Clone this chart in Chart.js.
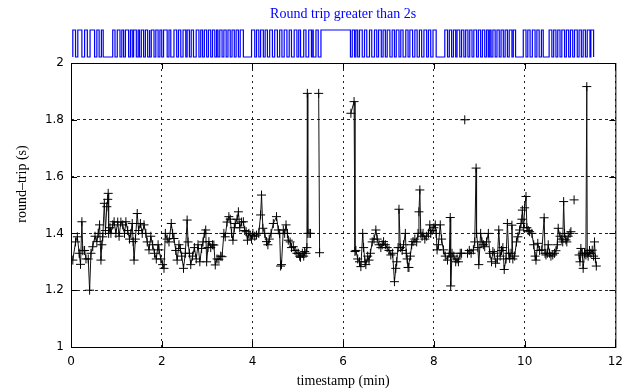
<!DOCTYPE html>
<html>
<head>
<meta charset="utf-8">
<script src="https://cdn.jsdelivr.net/npm/chart.js@4"></script>
<style>
  html, body { margin: 0; padding: 0; background: #fff; }
  #wrap { width: 631px; height: 392px; }
</style>
</head>
<body>
<div id="wrap"><canvas id="rtt"></canvas></div>
<script>
// timestamp (min) of each probe, and its round trip (s); null = lost (> 2s)
const times = [
  0.04, 0.10, 0.14, 0.18, 0.21, 0.24, 0.26, 0.30, 0.33, 0.38, 0.41, 0.44, 0.48, 0.53, 0.57, 0.60, 0.63, 0.66, 0.68, 0.70,
  0.735, 0.76, 0.79, 0.81, 0.82, 0.83, 0.86, 0.88, 0.92, 0.95, 0.99, 1.03, 1.06, 1.10, 1.14, 1.18, 1.21, 1.25, 1.29, 1.32,
  1.35, 1.37, 1.39, 1.42, 1.46, 1.49, 1.53, 1.57, 1.61, 1.65, 1.68, 1.72, 1.76, 1.80, 1.84, 1.88, 1.92, 1.94, 1.98, 2.02,
  2.05, 2.08, 2.12, 2.16, 2.21, 2.24, 2.27, 2.31, 2.34, 2.38, 2.41, 2.44, 2.48, 2.52, 2.56, 2.58, 2.61, 2.64, 2.68, 2.72,
  2.76, 2.80, 2.84, 2.88, 2.91, 2.94, 2.97, 2.99, 3.02, 3.04, 3.08, 3.12, 3.15, 3.18, 3.22, 3.26, 3.30, 3.33, 3.37, 3.40,
  3.44, 3.48, 3.51, 3.54, 3.57, 3.60, 3.62, 3.66, 3.69, 3.72, 3.76, 3.80, 3.83, 3.86, 3.89, 3.92, 3.95, 3.98, 4.01, 4.05,
  4.09, 4.14, 4.18, 4.20, 4.23, 4.27, 4.31, 4.34, 4.37, 4.41, 4.46, 4.53, 4.57, 4.60, 4.62, 4.64, 4.68, 4.71, 4.74, 4.77,
  4.79, 4.83, 4.86, 4.90, 4.94, 4.98, 5.01, 5.04, 5.06, 5.10, 5.13, 5.15, 5.18, 5.20, 5.21, 5.22, 5.25, 5.28, 5.35, 5.46,
  5.48, 5.80, 6.17, 6.24, 6.26, 6.28, 6.32, 6.36, 6.39, 6.43, 6.45, 6.48, 6.50, 6.54, 6.57, 6.60, 6.64, 6.68, 6.72, 6.75,
  6.79, 6.83, 6.86, 6.89, 6.93, 6.97, 7.01, 7.05, 7.09, 7.13, 7.16, 7.18, 7.21, 7.23, 7.26, 7.30, 7.33, 7.37, 7.39, 7.41,
  7.43, 7.45, 7.48, 7.51, 7.54, 7.58, 7.62, 7.65, 7.67, 7.69, 7.71, 7.74, 7.76, 7.80, 7.84, 7.88, 7.91, 7.93, 7.96, 8.00,
  8.03, 8.05, 8.07, 8.10, 8.14, 8.17, 8.21, 8.25, 8.30, 8.34, 8.36, 8.37, 8.40, 8.44, 8.48, 8.51, 8.54, 8.58, 8.61, 8.645,
  8.68, 8.71, 8.74, 8.78, 8.82, 8.87, 8.90, 8.93, 8.94, 8.97, 8.99, 9.03, 9.06, 9.09, 9.12, 9.16, 9.20, 9.23, 9.27, 9.30,
  9.33, 9.36, 9.40, 9.43, 9.46, 9.49, 9.52, 9.55, 9.59, 9.62, 9.65, 9.67, 9.70, 9.72, 9.74, 9.78, 9.82, 9.85, 9.89, 9.92,
  9.94, 9.95, 9.98, 10.00, 10.03, 10.05, 10.08, 10.11, 10.16, 10.20, 10.23, 10.25, 10.29, 10.33, 10.38, 10.43, 10.45, 10.47, 10.50, 10.52,
  10.55, 10.58, 10.62, 10.66, 10.69, 10.72, 10.74, 10.78, 10.81, 10.84, 10.86, 10.88, 10.91, 10.93, 10.96, 11.00, 11.02, 11.05, 11.09, 11.14,
  11.20, 11.22, 11.24, 11.27, 11.29, 11.32, 11.35, 11.37, 11.38, 11.40, 11.43, 11.46, 11.49, 11.52, 11.54, 11.56, 11.58
];
const roundTrip = [
  1.306, 1.37, 1.388, 1.33, 1.291, 1.441, 1.339, 1.34, 1.31, 1.31, 1.20, 1.33, 1.353, 1.39, 1.371, 1.40, 1.43, 1.306, 1.36, 1.388,
  1.506, 1.41, 1.494, 1.52, 1.541, 1.40, 1.42, 1.40, 1.43, 1.441, 1.40, 1.44, 1.39, 1.44, 1.43, 1.40, 1.441, 1.41, 1.38, 1.40,
  1.435, 1.371, 1.306, 1.38, 1.47, 1.41, 1.435, 1.40, 1.43, 1.40, 1.37, 1.342, 1.39, 1.36, 1.33, 1.31, 1.36, 1.342, 1.31, 1.29,
  1.277, 1.40, 1.38, 1.37, 1.435, 1.40, 1.382, 1.34, 1.306, 1.36, 1.347, 1.32, 1.277, 1.33, 1.447, 1.37, 1.33, 1.29, 1.32, 1.35,
  1.31, 1.36, 1.30, 1.347, 1.37, 1.40, 1.412, 1.30, 1.35, 1.371, 1.35, 1.36, 1.359, 1.289, 1.31, 1.309, 1.32, 1.318, 1.40, 1.388,
  1.44, 1.459, 1.45, 1.40, 1.376, 1.42, 1.435, 1.45, 1.476, 1.42, 1.44, 1.441, 1.41, 1.406, 1.376, 1.40, 1.394, 1.38, 1.40, 1.39,
  1.394, 1.40, 1.465, 1.535, 1.418, 1.40, 1.371, 1.36, 1.38, 1.40, 1.435, 1.459, 1.412, 1.40, 1.285, 1.29, 1.412, 1.40, 1.43, 1.40,
  1.376, 1.37, 1.35, 1.353, 1.34, 1.33, 1.33, 1.32, 1.316, 1.33, 1.32, 1.336, 1.33, 1.35, 1.893, 1.40, 1.40, 1.40, null, 1.893,
  1.332, null, 1.823, 1.864, 1.336, 1.34, 1.31, 1.30, 1.283, 1.40, 1.35, 1.30, 1.29, 1.32, 1.306, 1.33, 1.37, 1.38, 1.412, 1.38,
  1.36, 1.35, 1.36, 1.371, 1.36, 1.35, 1.34, 1.324, 1.33, 1.23, 1.277, 1.30, 1.35, 1.485, 1.35, 1.34, 1.36, 1.40, 1.33, 1.31,
  1.28, 1.28, 1.32, 1.36, 1.371, 1.38, 1.37, 1.40, 1.476, 1.553, 1.40, 1.39, 1.40, 1.38, 1.39, 1.40, 1.43, 1.40, 1.41, 1.42,
  1.43, 1.40, 1.342, 1.36, 1.43, 1.38, 1.342, 1.32, 1.306, 1.33, 1.456, 1.215, 1.33, 1.32, 1.30, 1.31, 1.30, 1.33, 1.33, null,
  1.80, null, 1.33, 1.34, 1.33, 1.342, 1.37, 1.63, 1.40, 1.35, 1.29, 1.40, 1.37, 1.36, 1.353, 1.37, 1.40, 1.33, 1.30, 1.336,
  1.33, 1.295, 1.31, 1.412, 1.32, 1.34, 1.35, 1.273, 1.31, 1.435, 1.33, 1.312, 1.33, 1.429, 1.31, 1.32, 1.37, 1.388, 1.412, 1.435,
  1.45, 1.482, 1.42, 1.49, 1.53, 1.42, 1.41, 1.406, 1.40, 1.36, 1.32, 1.306, 1.365, 1.34, 1.342, 1.455, 1.33, 1.324, 1.33, 1.36,
  1.33, 1.32, 1.324, 1.33, 1.339, 1.36, 1.418, 1.39, 1.38, 1.37, 1.512, 1.40, 1.377, 1.37, 1.39, 1.40, 1.406, null, 1.518, null,
  1.324, 1.30, 1.347, 1.33, 1.277, 1.33, 1.324, 1.917, 1.33, 1.32, 1.34, 1.33, 1.341, 1.32, 1.37, 1.312, 1.285
];

// "round trip greater than 2s" signal: times (min) where it toggles, starting low
const waveEdges = [
  0.04, 0.10, 0.15, 0.24, 0.30, 0.36, 0.42, 0.52, 0.57, 0.62, 0.67, 0.71,
  0.92, 0.97, 1.02, 1.08, 1.12, 1.16, 1.20, 1.27, 1.31, 1.35, 1.38, 1.44, 1.48, 1.51, 1.55, 1.60,
  1.64, 1.69, 1.72, 1.74, 1.77, 1.83, 1.87, 1.92, 1.96, 2.00, 2.04, 2.12, 2.16, 2.20, 2.27, 2.33,
  2.37, 2.42, 2.47, 2.53, 2.56, 2.61, 2.65, 2.70, 2.76, 2.82, 2.86, 2.90, 2.94, 2.99, 3.03, 3.08,
  3.12, 3.17, 3.21, 3.24, 3.28, 3.33, 3.37, 3.42, 3.46, 3.51, 3.55, 3.60, 3.64, 3.69, 3.73, 3.80,
  3.98, 4.05, 4.09, 4.14, 4.18, 4.24, 4.28, 4.33, 4.38, 4.44, 4.49, 4.55, 4.60, 4.65, 4.70, 4.76,
  4.81, 4.86, 4.92, 4.98, 5.02, 5.06, 5.13, 5.18, 5.24, 5.30, 5.33, 5.34, 5.40, 5.45, 5.51, 6.16,
  6.20, 6.25, 6.28, 6.32, 6.36, 6.42, 6.47, 6.52, 6.58, 6.63, 6.69, 6.74, 6.78, 6.84, 6.88, 6.93,
  6.97, 7.03, 7.08, 7.13, 7.17, 7.23, 7.27, 7.32, 7.38, 7.43, 7.47, 7.53, 7.58, 7.63, 7.68, 7.73,
  7.78, 7.84, 7.88, 7.93, 7.98, 8.05, 8.24, 8.30, 8.34, 8.39, 8.43, 8.48, 8.51, 8.57, 8.61, 8.66,
  8.70, 8.75, 8.79, 8.84, 8.88, 8.94, 8.98, 9.03, 9.07, 9.12, 9.16, 9.20, 9.23, 9.26, 9.30, 9.35,
  9.39, 9.44, 9.48, 9.53, 9.57, 9.62, 9.66, 9.72, 9.75, 9.80, 9.97, 10.03, 10.07, 10.12, 10.17, 10.23,
  10.27, 10.32, 10.37, 10.41, 10.54, 10.60, 10.64, 10.69, 10.73, 10.78, 10.82, 10.88, 10.92, 10.97,
  11.01, 11.06, 11.10, 11.16, 11.20, 11.25, 11.29, 11.34, 11.38, 11.44, 11.46, 11.52
];

const xTicks = [0, 2, 4, 6, 8, 10, 12];
const yTicks = [1, 1.2, 1.4, 1.6, 1.8, 2];

const tickFont = { family: "'DejaVu Sans', sans-serif", size: 12 };
const serif = "'Liberation Serif', 'Times New Roman', serif";

// points of the square wave, with both levels at each edge
const wavePoints = [];
let level = 0;
waveEdges.forEach(t => {
  wavePoints.push({ x: t, y: level });
  level = 1 - level;
  wavePoints.push({ x: t, y: level });
});

// box round the plot, with short solid ticks pointing inward
const framePlugin = {
  id: 'frame',
  afterDatasetsDraw(chart) {
    const { ctx, chartArea: a, scales } = chart;
    ctx.save();
    ctx.strokeStyle = '#000';
    ctx.lineWidth = 1;
    ctx.setLineDash([]);
    ctx.strokeRect(a.left + 0.5, a.top + 0.5, a.right - a.left, a.bottom - a.top);
    ctx.beginPath();
    xTicks.forEach(v => {
      const px = Math.round(scales.x.getPixelForValue(v)) + 0.5;
      ctx.moveTo(px, a.bottom); ctx.lineTo(px, a.bottom - 6);
      ctx.moveTo(px, a.top); ctx.lineTo(px, a.top + 6);
    });
    yTicks.forEach(v => {
      const py = Math.round(scales.y.getPixelForValue(v)) + 0.5;
      ctx.moveTo(a.left, py); ctx.lineTo(a.left + 6, py);
      ctx.moveTo(a.right, py); ctx.lineTo(a.right - 6, py);
    });
    ctx.stroke();
    // y axis title, sits a bit above the middle as in the source
    ctx.fillStyle = '#000';
    ctx.font = "14px " + serif;
    ctx.textAlign = 'center';
    ctx.textBaseline = 'middle';
    ctx.translate(22, 184);
    ctx.rotate(-Math.PI / 2);
    ctx.fillText('round\u2013trip (s)', 0, 0);
    ctx.restore();
  }
};

new Chart(document.getElementById('rtt'), {
  type: 'line',
  data: {
    datasets: [
      {
        label: 'round-trip',
        data: times.map((t, i) => ({ x: t, y: roundTrip[i] })),
        borderColor: '#111',
        borderWidth: 1,
        pointStyle: 'cross',
        pointRadius: 4.5,
        pointBorderColor: '#000',
        pointBorderWidth: 1,
        spanGaps: false,
        tension: 0
      },
      {
        label: 'Round trip greater than 2s',
        data: wavePoints,
        yAxisID: 'yw',
        borderColor: '#0000ff',
        borderWidth: 1.2,
        pointRadius: 0,
        tension: 0,
        clip: false
      }
    ]
  },
  options: {
    responsive: true,
    maintainAspectRatio: false,
    animation: false,
    layout: { padding: { left: 0, right: 13, top: 0, bottom: 0 } },
    plugins: {
      legend: { display: false },
      tooltip: { enabled: false },
      title: {
        display: true,
        fullSize: false,
        text: 'Round trip greater than 2s',
        color: '#0000ff',
        font: { family: serif, size: 14, weight: 'normal' },
        padding: { top: 6, bottom: 40.2 }
      }
    },
    scales: {
      x: {
        type: 'linear',
        min: 0,
        max: 12,
        afterFit: s => { s.height = 45; },
        afterBuildTicks: s => { s.ticks = xTicks.map(v => ({ value: v })); },
        ticks: { color: '#000', font: tickFont, padding: 8, maxRotation: 0, callback: v => String(v) },
        grid: { color: '#222', lineWidth: 1, drawTicks: false },
        border: { display: false, dash: [2, 4] },
        title: {
          display: true,
          text: 'timestamp (min)',
          color: '#000',
          font: { family: serif, size: 14 },
          padding: { top: 0, bottom: 2 }
        }
      },
      y: {
        min: 1,
        max: 2,
        afterFit: s => { s.width = 71; },
        afterBuildTicks: s => { s.ticks = yTicks.map(v => ({ value: v })); },
        ticks: { color: '#000', font: tickFont, padding: 7, callback: v => String(+v.toFixed(1)) },
        grid: { color: '#222', lineWidth: 1, drawTicks: false },
        border: { display: false, dash: [3, 3] }
      },
      yw: {
        display: false,
        min: -10.7407,
        max: -0.2222
      }
    }
  },
  plugins: [framePlugin]
});
</script>
</body>
</html>
